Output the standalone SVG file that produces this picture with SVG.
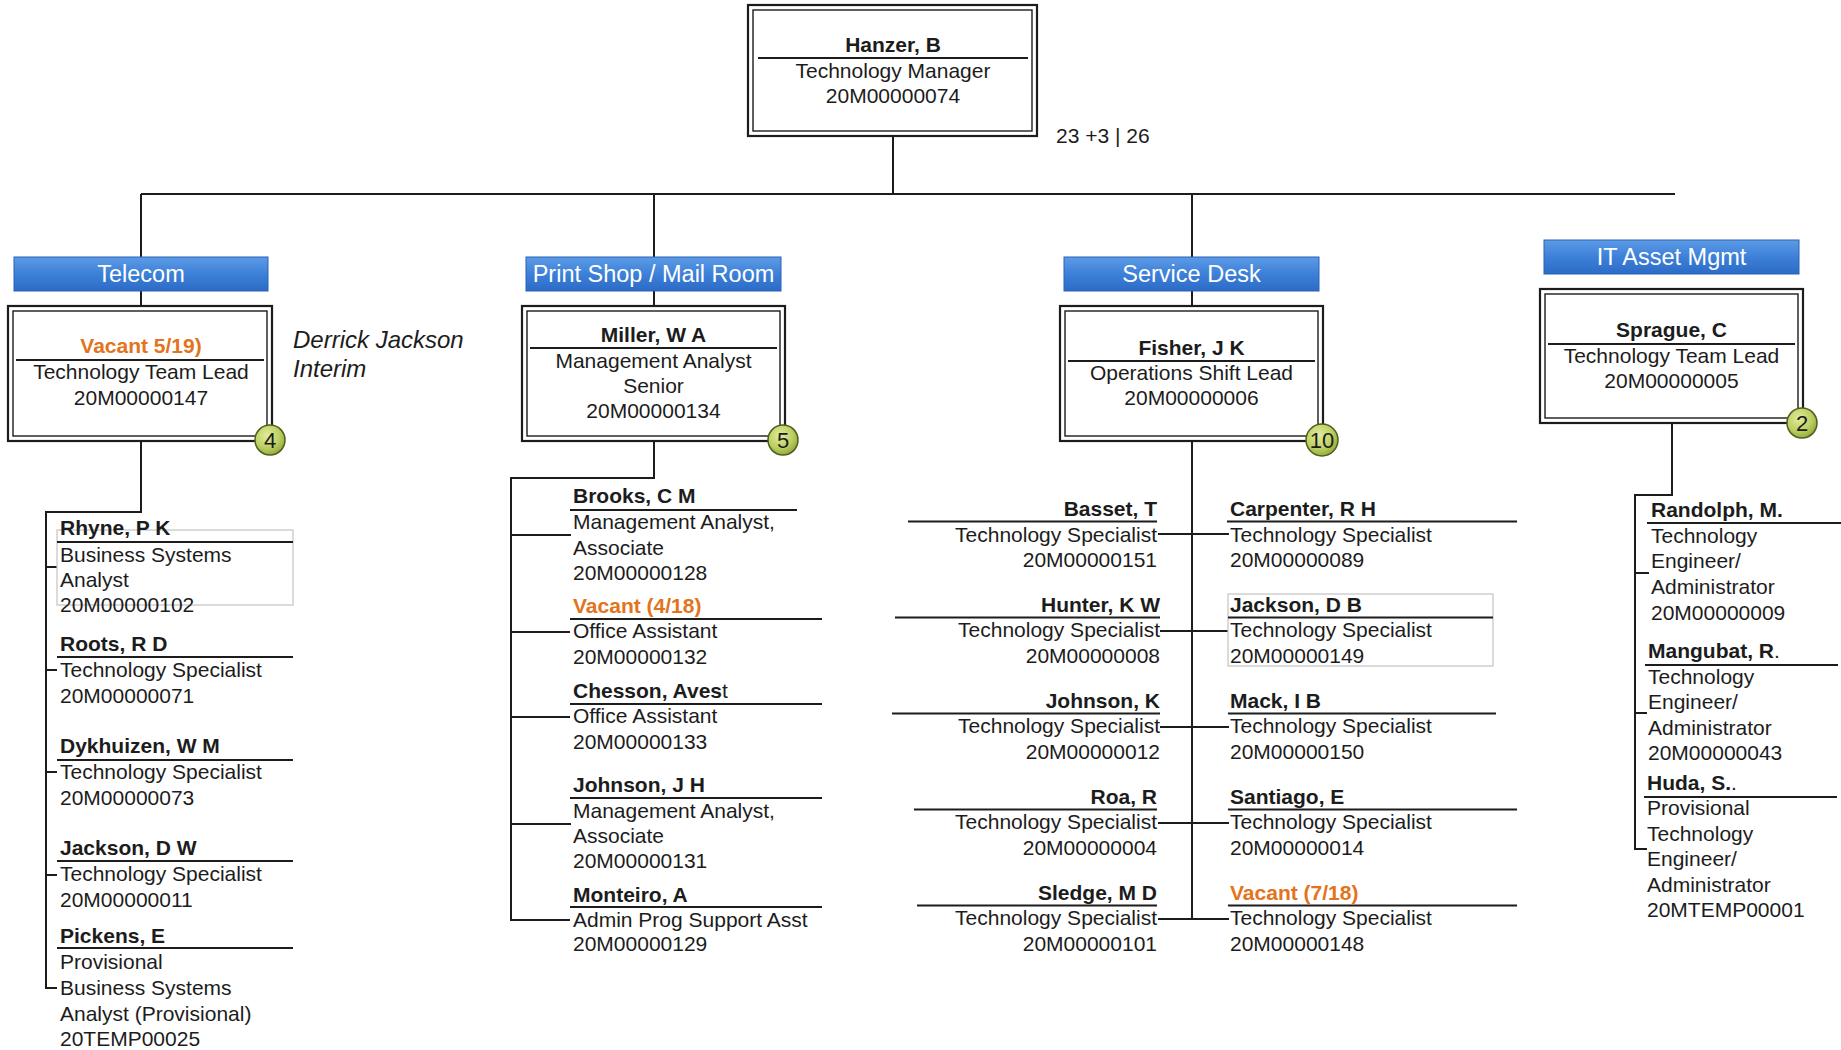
<svg xmlns="http://www.w3.org/2000/svg" width="1841" height="1050" viewBox="0 0 1841 1050">
  <defs>
    <linearGradient id="hdrFill" x1="0" y1="0" x2="0" y2="1">
      <stop offset="0" stop-color="#5c9be6"/>
      <stop offset="0.5" stop-color="#3d80d8"/>
      <stop offset="1" stop-color="#2c6bc6"/>
    </linearGradient>
    <radialGradient id="badgeFill" cx="0.4" cy="0.35" r="0.7">
      <stop offset="0" stop-color="#e2ec9c"/>
      <stop offset="0.6" stop-color="#bccf62"/>
      <stop offset="1" stop-color="#8fa637"/>
    </radialGradient>
    <style>
      text { font-family: "Liberation Sans", Arial, sans-serif; font-size: 21px; fill: #1c1c1c; }
      .b { font-weight: bold; }
      .r { font-weight: normal; }
      .c { text-anchor: middle; }
      .e { text-anchor: end; }
      .vac { fill: #e3731c; font-weight: bold; }
      .it { font-style: italic; font-size: 24px; }
      .hdrTxt { fill: #ffffff; text-anchor: middle; font-size: 23.5px; }
      .hdr { fill: url(#hdrFill); stroke: #2a62b5; stroke-width: 1; }
      .outer { fill: #ffffff; stroke: #1c1c1c; stroke-width: 2.2; }
      .inner { fill: #ffffff; stroke: #1c1c1c; stroke-width: 1.4; }
      .rule { stroke: #1c1c1c; stroke-width: 2; fill: none; }
      .frame { fill: #ffffff; stroke: #c4c4c4; stroke-width: 1.2; }
      .badge { fill: url(#badgeFill); stroke: #4e5e1e; stroke-width: 1.5; }
      .badgeTxt { text-anchor: middle; font-size: 22px; fill: #1c1c1c; }
      .conn { stroke: #1c1c1c; stroke-width: 2; fill: none; }
    </style>
  </defs>

  <!-- reporting lines -->
  <g id="connectors">
    <path class="conn" d="M893,137 V194"/>
    <path class="conn" d="M141,194 H1675"/>
    <path class="conn" d="M141,194 V257 M141,291 V306"/>
    <path class="conn" d="M654,194 V257 M654,291 V306"/>
    <path class="conn" d="M1192,194 V257 M1192,291 V306"/>
    <!-- Telecom staff -->
    <path class="conn" d="M141,441 V512 H46 V988 H57 M46,567 H57 M46,670 H57 M46,772 H57 M46,875 H57"/>
    <!-- Print Shop staff -->
    <path class="conn" d="M654,441 V478 H511 V920 H570 M511,535 H571 M511,632 H570 M511,717 H570 M511,824 H571"/>
    <!-- Service Desk staff -->
    <path class="conn" d="M1192,441 V919 M1158,534 H1229 M1160,631 H1229 M1160,727 H1229 M1158,823 H1229 M1158,919 H1229"/>
    <!-- IT Asset staff -->
    <path class="conn" d="M1672,423 V495 H1635 V849 H1647 M1635,573 H1649 M1635,713 H1647"/>
  </g>

  <!-- manager -->
  <g id="hanzer">
    <rect class="outer" x="748" y="5" width="289" height="131"/>
    <rect class="inner" x="753" y="10" width="279" height="121"/>
    <line class="rule" x1="758" y1="58" x2="1028" y2="58"/>
    <text class="b c" x="893" y="52">Hanzer, B</text>
    <text class="c" x="893" y="78">Technology Manager</text>
    <text class="c" x="893" y="103">20M00000074</text>
  </g>
  <text id="headcount" x="1056" y="143">23 +3 | 26</text>

  <!-- section headers -->
  <g id="hdr-telecom">
    <rect class="hdr" x="14" y="257" width="254" height="34"/>
    <text class="hdrTxt" x="141" y="282">Telecom</text>
  </g>
  <g id="hdr-print">
    <rect class="hdr" x="526" y="257" width="255" height="34"/>
    <text class="hdrTxt" x="653.5" y="282">Print Shop / Mail Room</text>
  </g>
  <g id="hdr-service">
    <rect class="hdr" x="1064" y="257" width="255" height="34"/>
    <text class="hdrTxt" x="1191.5" y="282">Service Desk</text>
  </g>
  <g id="hdr-asset">
    <rect class="hdr" x="1544" y="240" width="255" height="34"/>
    <text class="hdrTxt" x="1671.5" y="265">IT Asset Mgmt</text>
  </g>

  <!-- team leads -->
  <g id="lead-telecom">
    <rect class="outer" x="8" y="306" width="264" height="135"/>
    <rect class="inner" x="13" y="311" width="254" height="125"/>
    <line class="rule" x1="16" y1="360" x2="264" y2="360"/>
    <text class="vac c" x="141" y="353">Vacant 5/19)</text>
    <text class="c" x="141" y="379">Technology Team Lead</text>
    <text class="c" x="141" y="405">20M00000147</text>
    <circle class="badge" cx="270" cy="440" r="15"/>
    <text class="badgeTxt" x="270" y="448">4</text>
  </g>
  <g id="interim-note">
    <text class="it" x="293" y="348">Derrick Jackson</text>
    <text class="it" x="293" y="377">Interim</text>
  </g>

  <g id="lead-print">
    <rect class="outer" x="522" y="306" width="263" height="135"/>
    <rect class="inner" x="527" y="311" width="253" height="125"/>
    <line class="rule" x1="530" y1="348" x2="777" y2="348"/>
    <text class="b c" x="653.5" y="342">Miller, W A</text>
    <text class="c" x="653.5" y="368">Management Analyst</text>
    <text class="c" x="653.5" y="393">Senior</text>
    <text class="c" x="653.5" y="418">20M00000134</text>
    <circle class="badge" cx="783" cy="440" r="15"/>
    <text class="badgeTxt" x="783" y="448">5</text>
  </g>

  <g id="lead-service">
    <rect class="outer" x="1060" y="306" width="263" height="135"/>
    <rect class="inner" x="1065" y="311" width="253" height="125"/>
    <line class="rule" x1="1068" y1="361" x2="1315" y2="361"/>
    <text class="b c" x="1191.5" y="355">Fisher, J K</text>
    <text class="c" x="1191.5" y="380">Operations Shift Lead</text>
    <text class="c" x="1191.5" y="405">20M00000006</text>
    <circle class="badge" cx="1322" cy="440" r="16"/>
    <text class="badgeTxt" x="1322" y="448">10</text>
  </g>

  <g id="lead-asset">
    <rect class="outer" x="1540" y="289" width="263" height="134"/>
    <rect class="inner" x="1545" y="294" width="253" height="124"/>
    <line class="rule" x1="1548" y1="344" x2="1795" y2="344"/>
    <text class="b c" x="1671.5" y="337">Sprague, C</text>
    <text class="c" x="1671.5" y="363">Technology Team Lead</text>
    <text class="c" x="1671.5" y="388">20M00000005</text>
    <circle class="badge" cx="1802" cy="423" r="15"/>
    <text class="badgeTxt" x="1802" y="431">2</text>
  </g>

  <!-- Telecom staff -->
  <g id="rhyne">
    <rect class="frame" x="57" y="530" width="236" height="75"/>
    <text class="b" x="60" y="535">Rhyne, P K</text>
    <line class="rule" x1="57" y1="542" x2="293" y2="542"/>
    <text x="60" y="562">Business Systems</text>
    <text x="60" y="587">Analyst</text>
    <text x="60" y="612">20M00000102</text>
  </g>
  <g id="roots">
    <text class="b" x="60" y="651">Roots, R D</text>
    <line class="rule" x1="57" y1="657" x2="293" y2="657"/>
    <text x="60" y="677">Technology Specialist</text>
    <text x="60" y="703">20M00000071</text>
  </g>
  <g id="dykhuizen">
    <text class="b" x="60" y="753">Dykhuizen, W M</text>
    <line class="rule" x1="57" y1="760" x2="293" y2="760"/>
    <text x="60" y="779">Technology Specialist</text>
    <text x="60" y="805">20M00000073</text>
  </g>
  <g id="jackson-dw">
    <text class="b" x="60" y="855">Jackson, D W</text>
    <line class="rule" x1="57" y1="861" x2="293" y2="861"/>
    <text x="60" y="881">Technology Specialist</text>
    <text x="60" y="907">20M00000011</text>
  </g>
  <g id="pickens">
    <text class="b" x="60" y="943">Pickens, E</text>
    <line class="rule" x1="57" y1="948" x2="293" y2="948"/>
    <text x="60" y="969">Provisional</text>
    <text x="60" y="995">Business Systems</text>
    <text x="60" y="1021">Analyst (Provisional)</text>
    <text x="60" y="1046">20TEMP00025</text>
  </g>

  <!-- Print Shop / Mail Room staff -->
  <g id="brooks">
    <text class="b" x="573" y="503">Brooks, C M</text>
    <line class="rule" x1="570" y1="510" x2="797" y2="510"/>
    <text x="573" y="529">Management Analyst,</text>
    <text x="573" y="555">Associate</text>
    <text x="573" y="580">20M00000128</text>
  </g>
  <g id="vacant-4-18">
    <text class="vac" x="573" y="613">Vacant (4/18)</text>
    <line class="rule" x1="570" y1="619" x2="822" y2="619"/>
    <text x="573" y="638">Office Assistant</text>
    <text x="573" y="664">20M00000132</text>
  </g>
  <g id="chesson">
    <text class="b" x="573" y="698">Chesson, Aves<tspan class="r">t</tspan></text>
    <line class="rule" x1="570" y1="704" x2="822" y2="704"/>
    <text x="573" y="723">Office Assistant</text>
    <text x="573" y="749">20M00000133</text>
  </g>
  <g id="johnson-jh">
    <text class="b" x="573" y="792">Johnson, J H</text>
    <line class="rule" x1="570" y1="798" x2="822" y2="798"/>
    <text x="573" y="818">Management Analyst,</text>
    <text x="573" y="843">Associate</text>
    <text x="573" y="868">20M00000131</text>
  </g>
  <g id="monteiro">
    <text class="b" x="573" y="902">Monteiro, A</text>
    <line class="rule" x1="570" y1="907" x2="822" y2="907"/>
    <text x="573" y="927">Admin Prog Support Asst</text>
    <text x="573" y="951">20M00000129</text>
  </g>

  <!-- Service Desk staff, left column -->
  <g id="basset">
    <text class="b e" x="1157" y="516">Basset, T</text>
    <line class="rule" x1="908" y1="521.5" x2="1157" y2="521.5"/>
    <text class="e" x="1157" y="541.5">Technology Specialist</text>
    <text class="e" x="1157" y="567">20M00000151</text>
  </g>
  <g id="hunter">
    <text class="b e" x="1160" y="612">Hunter, K W</text>
    <line class="rule" x1="895" y1="617.5" x2="1160" y2="617.5"/>
    <text class="e" x="1160" y="637">Technology Specialist</text>
    <text class="e" x="1160" y="663">20M00000008</text>
  </g>
  <g id="johnson-k">
    <text class="b e" x="1160" y="708">Johnson, K</text>
    <line class="rule" x1="892" y1="713.5" x2="1160" y2="713.5"/>
    <text class="e" x="1160" y="733">Technology Specialist</text>
    <text class="e" x="1160" y="759">20M00000012</text>
  </g>
  <g id="roa">
    <text class="b e" x="1157" y="804">Roa, R</text>
    <line class="rule" x1="914" y1="809.5" x2="1157" y2="809.5"/>
    <text class="e" x="1157" y="829">Technology Specialist</text>
    <text class="e" x="1157" y="855">20M00000004</text>
  </g>
  <g id="sledge">
    <text class="b e" x="1157" y="900">Sledge, M D</text>
    <line class="rule" x1="917" y1="905.5" x2="1157" y2="905.5"/>
    <text class="e" x="1157" y="925">Technology Specialist</text>
    <text class="e" x="1157" y="951">20M00000101</text>
  </g>

  <!-- Service Desk staff, right column -->
  <g id="carpenter">
    <text class="b" x="1230" y="516">Carpenter, R H</text>
    <line class="rule" x1="1227" y1="521.5" x2="1517" y2="521.5"/>
    <text x="1230" y="541.5">Technology Specialist</text>
    <text x="1230" y="567">20M00000089</text>
  </g>
  <g id="jackson-db">
    <rect class="frame" x="1228" y="594" width="265" height="72"/>
    <text class="b" x="1230" y="612">Jackson, D B</text>
    <line class="rule" x1="1228" y1="617.5" x2="1493" y2="617.5"/>
    <text x="1230" y="637">Technology Specialist</text>
    <text x="1230" y="663">20M00000149</text>
  </g>
  <g id="mack">
    <text class="b" x="1230" y="708">Mack, I B</text>
    <line class="rule" x1="1228" y1="713.5" x2="1496" y2="713.5"/>
    <text x="1230" y="733">Technology Specialist</text>
    <text x="1230" y="759">20M00000150</text>
  </g>
  <g id="santiago">
    <text class="b" x="1230" y="804">Santiago, E</text>
    <line class="rule" x1="1228" y1="809.5" x2="1517" y2="809.5"/>
    <text x="1230" y="829">Technology Specialist</text>
    <text x="1230" y="855">20M00000014</text>
  </g>
  <g id="vacant-7-18">
    <text class="vac" x="1230" y="900">Vacant (7/18)</text>
    <line class="rule" x1="1228" y1="905.5" x2="1517" y2="905.5"/>
    <text x="1230" y="925">Technology Specialist</text>
    <text x="1230" y="951">20M00000148</text>
  </g>

  <!-- IT Asset Mgmt staff -->
  <g id="randolph">
    <text class="b" x="1651" y="517">Randolph, M.</text>
    <line class="rule" x1="1647" y1="523" x2="1841" y2="523"/>
    <text x="1651" y="543">Technology</text>
    <text x="1651" y="568">Engineer/</text>
    <text x="1651" y="594">Administrator</text>
    <text x="1651" y="620">20M00000009</text>
  </g>
  <g id="mangubat">
    <text class="b" x="1648" y="658">Mangubat, R<tspan class="r">.</tspan></text>
    <line class="rule" x1="1645" y1="665" x2="1838" y2="665"/>
    <text x="1648" y="684">Technology</text>
    <text x="1648" y="709">Engineer/</text>
    <text x="1648" y="735">Administrator</text>
    <text x="1648" y="760">20M00000043</text>
  </g>
  <g id="huda">
    <text class="b" x="1647" y="790">Huda, S.<tspan class="r">.</tspan></text>
    <line class="rule" x1="1644" y1="797" x2="1837" y2="797"/>
    <text x="1647" y="815">Provisional</text>
    <text x="1647" y="841">Technology</text>
    <text x="1647" y="866">Engineer/</text>
    <text x="1647" y="892">Administrator</text>
    <text x="1647" y="917">20MTEMP00001</text>
  </g>
</svg>
